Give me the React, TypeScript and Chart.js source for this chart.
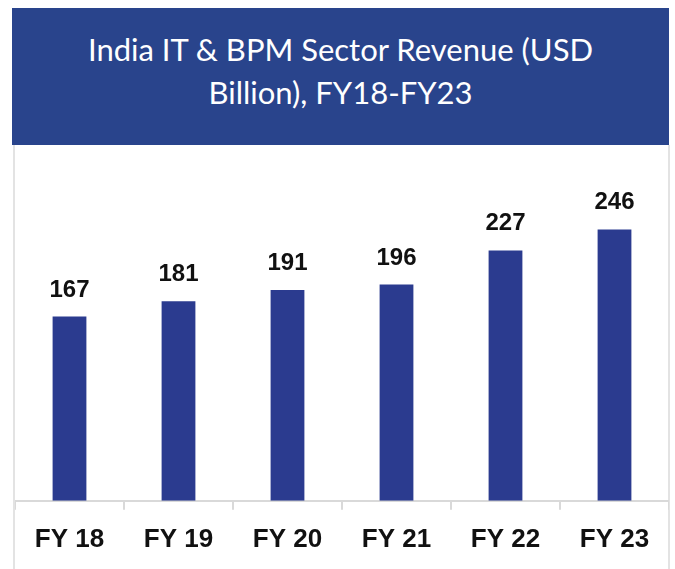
import React, { useEffect, useRef } from "react";
import { Chart, registerables } from "chart.js";

Chart.register(...registerables);

const categories = ["FY 18", "FY 19", "FY 20", "FY 21", "FY 22", "FY 23"];
const revenue = [167, 181, 191, 196, 227, 246];
const titleLines = ["India IT & BPM Sector Revenue (USD", "Billion), FY18-FY23"];

const BAR_COLOR = "#2b3b8f";
const BANNER_COLOR = "#29448c";

const valueLabels = {
  id: "valueLabels",
  afterDatasetsDraw(chart: any) {
    const ctx = chart.ctx;
    const meta = chart.getDatasetMeta(0);
    ctx.save();
    ctx.font = "bold 24px 'Liberation Sans', Arial, sans-serif";
    ctx.fillStyle = "#111111";
    ctx.textAlign = "center";
    ctx.textBaseline = "alphabetic";
    meta.data.forEach((bar: any, i: number) => {
      ctx.fillText(String(chart.data.datasets[0].data[i]), bar.x, bar.y - 20);
    });
    ctx.restore();
  },
};

export default function App() {
  const canvasRef = useRef<HTMLCanvasElement | null>(null);

  useEffect(() => {
    if (!canvasRef.current) return;
    const chart = new Chart(canvasRef.current, {
      type: "bar",
      data: {
        labels: categories,
        datasets: [
          {
            data: revenue,
            backgroundColor: BAR_COLOR,
            borderWidth: 0,
            barPercentage: 0.31,
            categoryPercentage: 1,
          },
        ],
      },
      options: {
        animation: false,
        responsive: false,
        maintainAspectRatio: false,
        layout: { padding: { top: 5, bottom: 0, left: 0, right: 0 } },
        plugins: {
          legend: { display: false },
          title: { display: false },
          tooltip: { enabled: false },
        },
        scales: {
          y: {
            display: false,
            min: 0,
            max: 318,
          },
          x: {
            offset: true,
            border: { display: true, color: "#d9d9d9", width: 2 },
            grid: {
              display: true,
              offset: true,
              drawOnChartArea: false,
              drawTicks: true,
              tickLength: 9,
              color: "#d9d9d9",
              lineWidth: 2,
            },
            ticks: {
              color: "#111111",
              padding: 14,
              font: { family: "'Liberation Sans', Arial, sans-serif", size: 26, weight: "bold" },
            },
          },
        },
      },
      plugins: [valueLabels],
    });
    return () => chart.destroy();
  }, []);

  return (
    <div
      style={{
        position: "fixed",
        left: 0,
        top: 0,
        width: 675,
        height: 569,
        background: "#ffffff",
        overflow: "hidden",
      }}
    >
      <div
        style={{
          position: "absolute",
          left: 12,
          top: 8,
          width: 657,
          height: 137,
          background: BANNER_COLOR,
          color: "#ffffff",
          fontFamily: "Lato, 'Open Sans', sans-serif",
          fontSize: 31,
          lineHeight: "43px",
          textAlign: "center",
          paddingTop: 20,
          boxSizing: "border-box",
        }}
      >
        {titleLines.map((t, i) => (
          <div key={i}>{t}</div>
        ))}
      </div>
      <div
        style={{
          position: "absolute",
          left: 13,
          top: 145,
          width: 2,
          height: 424,
          background: "#e3e3e3",
        }}
      />
      <div
        style={{
          position: "absolute",
          left: 668,
          top: 145,
          width: 2,
          height: 424,
          background: "#e3e3e3",
        }}
      />
      <canvas
        ref={canvasRef}
        width={654}
        height={424}
        style={{ position: "absolute", left: 15, top: 145, width: 654, height: 424 }}
      />
    </div>
  );
}
